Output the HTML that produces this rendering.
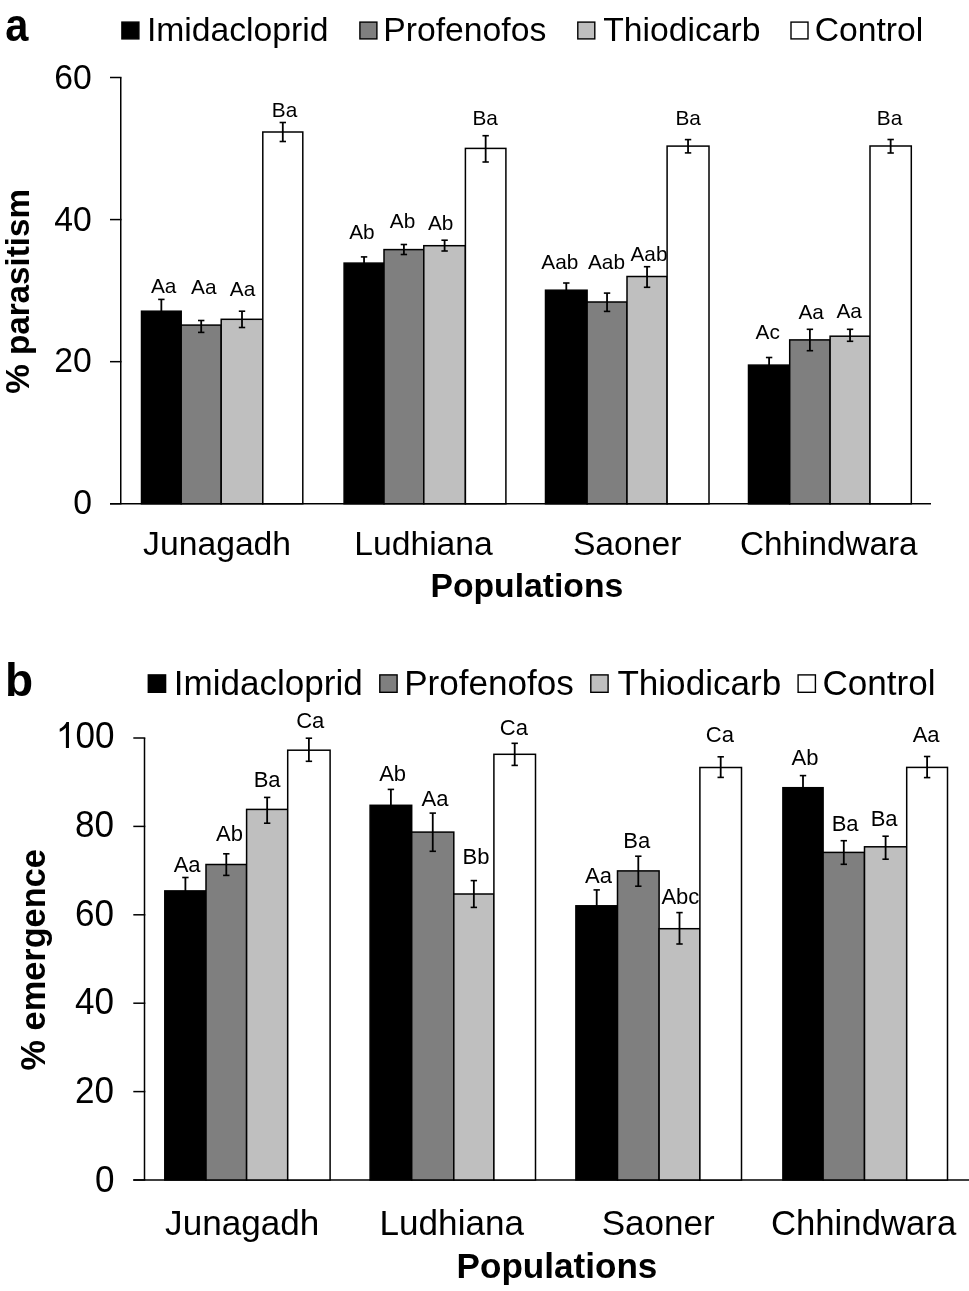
<!DOCTYPE html>
<html><head><meta charset="utf-8"><style>
html,body{margin:0;padding:0;background:#fff;}
body{width:969px;height:1291px;overflow:hidden;}
svg{display:block;will-change:transform;font-family:"Liberation Sans",sans-serif;}
</style></head><body>
<svg width="969" height="1291" viewBox="0 0 969 1291">
<rect x="0" y="0" width="969" height="1291" fill="#fff"/>
<rect x="121.90" y="22.10" width="17.00" height="16.80" fill="#000000" stroke="#000" stroke-width="1.4"/>
<rect x="359.90" y="22.10" width="17.00" height="16.80" fill="#7f7f7f" stroke="#000" stroke-width="1.4"/>
<rect x="577.80" y="22.10" width="17.00" height="16.80" fill="#bfbfbf" stroke="#000" stroke-width="1.4"/>
<rect x="791.00" y="22.10" width="17.00" height="16.80" fill="#ffffff" stroke="#000" stroke-width="1.4"/>
<line x1="120.75" y1="77.50" x2="120.75" y2="503.75" stroke="#000" stroke-width="1.5"/>
<line x1="110.00" y1="77.50" x2="121.50" y2="77.50" stroke="#000" stroke-width="1.5"/>
<line x1="110.00" y1="219.58" x2="121.50" y2="219.58" stroke="#000" stroke-width="1.5"/>
<line x1="110.00" y1="361.67" x2="121.50" y2="361.67" stroke="#000" stroke-width="1.5"/>
<line x1="110.00" y1="503.75" x2="121.50" y2="503.75" stroke="#000" stroke-width="1.5"/>
<line x1="110.00" y1="503.75" x2="931.00" y2="503.75" stroke="#000" stroke-width="1.5"/>
<rect x="141.50" y="311.20" width="39.70" height="192.55" fill="#000000" stroke="#000" stroke-width="1.5"/>
<line x1="161.35" y1="299.40" x2="161.35" y2="323.00" stroke="#000" stroke-width="1.8"/>
<line x1="158.15" y1="299.40" x2="164.55" y2="299.40" stroke="#000" stroke-width="1.6"/>
<line x1="158.15" y1="323.00" x2="164.55" y2="323.00" stroke="#000" stroke-width="1.6"/>
<rect x="181.20" y="325.10" width="40.00" height="178.65" fill="#7f7f7f" stroke="#000" stroke-width="1.5"/>
<line x1="201.20" y1="320.50" x2="201.20" y2="332.40" stroke="#000" stroke-width="1.8"/>
<line x1="198.00" y1="320.50" x2="204.40" y2="320.50" stroke="#000" stroke-width="1.6"/>
<line x1="198.00" y1="332.40" x2="204.40" y2="332.40" stroke="#000" stroke-width="1.6"/>
<rect x="221.20" y="319.30" width="41.60" height="184.45" fill="#bfbfbf" stroke="#000" stroke-width="1.5"/>
<line x1="242.00" y1="311.20" x2="242.00" y2="327.50" stroke="#000" stroke-width="1.8"/>
<line x1="238.80" y1="311.20" x2="245.20" y2="311.20" stroke="#000" stroke-width="1.6"/>
<line x1="238.80" y1="327.50" x2="245.20" y2="327.50" stroke="#000" stroke-width="1.6"/>
<rect x="262.80" y="132.00" width="40.00" height="371.75" fill="#ffffff" stroke="#000" stroke-width="1.5"/>
<line x1="282.80" y1="122.50" x2="282.80" y2="141.50" stroke="#000" stroke-width="1.8"/>
<line x1="279.60" y1="122.50" x2="286.00" y2="122.50" stroke="#000" stroke-width="1.6"/>
<line x1="279.60" y1="141.50" x2="286.00" y2="141.50" stroke="#000" stroke-width="1.6"/>
<rect x="344.10" y="263.10" width="39.90" height="240.65" fill="#000000" stroke="#000" stroke-width="1.5"/>
<line x1="364.05" y1="256.90" x2="364.05" y2="269.30" stroke="#000" stroke-width="1.8"/>
<line x1="360.85" y1="256.90" x2="367.25" y2="256.90" stroke="#000" stroke-width="1.6"/>
<line x1="360.85" y1="269.30" x2="367.25" y2="269.30" stroke="#000" stroke-width="1.6"/>
<rect x="384.00" y="249.60" width="39.80" height="254.15" fill="#7f7f7f" stroke="#000" stroke-width="1.5"/>
<line x1="403.90" y1="244.50" x2="403.90" y2="254.50" stroke="#000" stroke-width="1.8"/>
<line x1="400.70" y1="244.50" x2="407.10" y2="244.50" stroke="#000" stroke-width="1.6"/>
<line x1="400.70" y1="254.50" x2="407.10" y2="254.50" stroke="#000" stroke-width="1.6"/>
<rect x="423.80" y="245.70" width="41.60" height="258.05" fill="#bfbfbf" stroke="#000" stroke-width="1.5"/>
<line x1="444.60" y1="240.20" x2="444.60" y2="251.00" stroke="#000" stroke-width="1.8"/>
<line x1="441.40" y1="240.20" x2="447.80" y2="240.20" stroke="#000" stroke-width="1.6"/>
<line x1="441.40" y1="251.00" x2="447.80" y2="251.00" stroke="#000" stroke-width="1.6"/>
<rect x="465.40" y="148.40" width="40.50" height="355.35" fill="#ffffff" stroke="#000" stroke-width="1.5"/>
<line x1="485.65" y1="135.70" x2="485.65" y2="162.00" stroke="#000" stroke-width="1.8"/>
<line x1="482.45" y1="135.70" x2="488.85" y2="135.70" stroke="#000" stroke-width="1.6"/>
<line x1="482.45" y1="162.00" x2="488.85" y2="162.00" stroke="#000" stroke-width="1.6"/>
<rect x="545.50" y="290.20" width="41.60" height="213.55" fill="#000000" stroke="#000" stroke-width="1.5"/>
<line x1="566.30" y1="283.00" x2="566.30" y2="297.40" stroke="#000" stroke-width="1.8"/>
<line x1="563.10" y1="283.00" x2="569.50" y2="283.00" stroke="#000" stroke-width="1.6"/>
<line x1="563.10" y1="297.40" x2="569.50" y2="297.40" stroke="#000" stroke-width="1.6"/>
<rect x="587.10" y="302.00" width="39.90" height="201.75" fill="#7f7f7f" stroke="#000" stroke-width="1.5"/>
<line x1="607.05" y1="293.10" x2="607.05" y2="311.40" stroke="#000" stroke-width="1.8"/>
<line x1="603.85" y1="293.10" x2="610.25" y2="293.10" stroke="#000" stroke-width="1.6"/>
<line x1="603.85" y1="311.40" x2="610.25" y2="311.40" stroke="#000" stroke-width="1.6"/>
<rect x="627.00" y="276.50" width="40.10" height="227.25" fill="#bfbfbf" stroke="#000" stroke-width="1.5"/>
<line x1="647.05" y1="266.70" x2="647.05" y2="287.30" stroke="#000" stroke-width="1.8"/>
<line x1="643.85" y1="266.70" x2="650.25" y2="266.70" stroke="#000" stroke-width="1.6"/>
<line x1="643.85" y1="287.30" x2="650.25" y2="287.30" stroke="#000" stroke-width="1.6"/>
<rect x="667.10" y="146.10" width="41.90" height="357.65" fill="#ffffff" stroke="#000" stroke-width="1.5"/>
<line x1="688.05" y1="139.60" x2="688.05" y2="152.90" stroke="#000" stroke-width="1.8"/>
<line x1="684.85" y1="139.60" x2="691.25" y2="139.60" stroke="#000" stroke-width="1.6"/>
<line x1="684.85" y1="152.90" x2="691.25" y2="152.90" stroke="#000" stroke-width="1.6"/>
<rect x="748.50" y="365.10" width="41.20" height="138.65" fill="#000000" stroke="#000" stroke-width="1.5"/>
<line x1="769.10" y1="357.50" x2="769.10" y2="372.70" stroke="#000" stroke-width="1.8"/>
<line x1="765.90" y1="357.50" x2="772.30" y2="357.50" stroke="#000" stroke-width="1.6"/>
<line x1="765.90" y1="372.70" x2="772.30" y2="372.70" stroke="#000" stroke-width="1.6"/>
<rect x="789.70" y="339.90" width="40.40" height="163.85" fill="#7f7f7f" stroke="#000" stroke-width="1.5"/>
<line x1="809.90" y1="329.30" x2="809.90" y2="350.70" stroke="#000" stroke-width="1.8"/>
<line x1="806.70" y1="329.30" x2="813.10" y2="329.30" stroke="#000" stroke-width="1.6"/>
<line x1="806.70" y1="350.70" x2="813.10" y2="350.70" stroke="#000" stroke-width="1.6"/>
<rect x="830.10" y="336.20" width="39.90" height="167.55" fill="#bfbfbf" stroke="#000" stroke-width="1.5"/>
<line x1="850.05" y1="329.30" x2="850.05" y2="341.30" stroke="#000" stroke-width="1.8"/>
<line x1="846.85" y1="329.30" x2="853.25" y2="329.30" stroke="#000" stroke-width="1.6"/>
<line x1="846.85" y1="341.30" x2="853.25" y2="341.30" stroke="#000" stroke-width="1.6"/>
<rect x="870.00" y="146.00" width="41.30" height="357.75" fill="#ffffff" stroke="#000" stroke-width="1.5"/>
<line x1="890.65" y1="139.50" x2="890.65" y2="153.00" stroke="#000" stroke-width="1.8"/>
<line x1="887.45" y1="139.50" x2="893.85" y2="139.50" stroke="#000" stroke-width="1.6"/>
<line x1="887.45" y1="153.00" x2="893.85" y2="153.00" stroke="#000" stroke-width="1.6"/>
<rect x="148.30" y="674.90" width="17.30" height="17.40" fill="#000000" stroke="#000" stroke-width="1.4"/>
<rect x="379.80" y="674.90" width="17.30" height="17.40" fill="#7f7f7f" stroke="#000" stroke-width="1.4"/>
<rect x="590.80" y="674.90" width="17.30" height="17.40" fill="#bfbfbf" stroke="#000" stroke-width="1.4"/>
<rect x="798.10" y="674.90" width="17.30" height="17.40" fill="#ffffff" stroke="#000" stroke-width="1.4"/>
<line x1="144.50" y1="738.00" x2="144.50" y2="1180.00" stroke="#000" stroke-width="1.5"/>
<line x1="133.30" y1="738.00" x2="145.30" y2="738.00" stroke="#000" stroke-width="1.5"/>
<line x1="133.30" y1="826.40" x2="145.30" y2="826.40" stroke="#000" stroke-width="1.5"/>
<line x1="133.30" y1="914.80" x2="145.30" y2="914.80" stroke="#000" stroke-width="1.5"/>
<line x1="133.30" y1="1003.20" x2="145.30" y2="1003.20" stroke="#000" stroke-width="1.5"/>
<line x1="133.30" y1="1091.60" x2="145.30" y2="1091.60" stroke="#000" stroke-width="1.5"/>
<line x1="133.30" y1="1180.00" x2="145.30" y2="1180.00" stroke="#000" stroke-width="1.5"/>
<line x1="133.30" y1="1180.00" x2="969.00" y2="1180.00" stroke="#000" stroke-width="1.5"/>
<rect x="164.80" y="890.90" width="41.20" height="289.10" fill="#000000" stroke="#000" stroke-width="1.5"/>
<line x1="185.40" y1="877.50" x2="185.40" y2="904.30" stroke="#000" stroke-width="1.8"/>
<line x1="182.20" y1="877.50" x2="188.60" y2="877.50" stroke="#000" stroke-width="1.6"/>
<line x1="182.20" y1="904.30" x2="188.60" y2="904.30" stroke="#000" stroke-width="1.6"/>
<rect x="206.00" y="864.50" width="40.60" height="315.50" fill="#7f7f7f" stroke="#000" stroke-width="1.5"/>
<line x1="226.30" y1="853.80" x2="226.30" y2="875.40" stroke="#000" stroke-width="1.8"/>
<line x1="223.10" y1="853.80" x2="229.50" y2="853.80" stroke="#000" stroke-width="1.6"/>
<line x1="223.10" y1="875.40" x2="229.50" y2="875.40" stroke="#000" stroke-width="1.6"/>
<rect x="246.60" y="809.40" width="41.10" height="370.60" fill="#bfbfbf" stroke="#000" stroke-width="1.5"/>
<line x1="267.15" y1="797.40" x2="267.15" y2="823.20" stroke="#000" stroke-width="1.8"/>
<line x1="263.95" y1="797.40" x2="270.35" y2="797.40" stroke="#000" stroke-width="1.6"/>
<line x1="263.95" y1="823.20" x2="270.35" y2="823.20" stroke="#000" stroke-width="1.6"/>
<rect x="287.70" y="750.20" width="42.40" height="429.80" fill="#ffffff" stroke="#000" stroke-width="1.5"/>
<line x1="308.90" y1="738.20" x2="308.90" y2="761.30" stroke="#000" stroke-width="1.8"/>
<line x1="305.70" y1="738.20" x2="312.10" y2="738.20" stroke="#000" stroke-width="1.6"/>
<line x1="305.70" y1="761.30" x2="312.10" y2="761.30" stroke="#000" stroke-width="1.6"/>
<rect x="370.10" y="805.30" width="41.60" height="374.70" fill="#000000" stroke="#000" stroke-width="1.5"/>
<line x1="390.90" y1="789.40" x2="390.90" y2="821.20" stroke="#000" stroke-width="1.8"/>
<line x1="387.70" y1="789.40" x2="394.10" y2="789.40" stroke="#000" stroke-width="1.6"/>
<line x1="387.70" y1="821.20" x2="394.10" y2="821.20" stroke="#000" stroke-width="1.6"/>
<rect x="411.70" y="832.10" width="42.10" height="347.90" fill="#7f7f7f" stroke="#000" stroke-width="1.5"/>
<line x1="432.75" y1="813.10" x2="432.75" y2="851.30" stroke="#000" stroke-width="1.8"/>
<line x1="429.55" y1="813.10" x2="435.95" y2="813.10" stroke="#000" stroke-width="1.6"/>
<line x1="429.55" y1="851.30" x2="435.95" y2="851.30" stroke="#000" stroke-width="1.6"/>
<rect x="453.80" y="894.00" width="40.10" height="286.00" fill="#bfbfbf" stroke="#000" stroke-width="1.5"/>
<line x1="473.85" y1="880.60" x2="473.85" y2="907.40" stroke="#000" stroke-width="1.8"/>
<line x1="470.65" y1="880.60" x2="477.05" y2="880.60" stroke="#000" stroke-width="1.6"/>
<line x1="470.65" y1="907.40" x2="477.05" y2="907.40" stroke="#000" stroke-width="1.6"/>
<rect x="493.90" y="754.30" width="41.60" height="425.70" fill="#ffffff" stroke="#000" stroke-width="1.5"/>
<line x1="514.70" y1="743.30" x2="514.70" y2="765.40" stroke="#000" stroke-width="1.8"/>
<line x1="511.50" y1="743.30" x2="517.90" y2="743.30" stroke="#000" stroke-width="1.6"/>
<line x1="511.50" y1="765.40" x2="517.90" y2="765.40" stroke="#000" stroke-width="1.6"/>
<rect x="575.90" y="905.80" width="41.60" height="274.20" fill="#000000" stroke="#000" stroke-width="1.5"/>
<line x1="596.70" y1="889.90" x2="596.70" y2="921.70" stroke="#000" stroke-width="1.8"/>
<line x1="593.50" y1="889.90" x2="599.90" y2="889.90" stroke="#000" stroke-width="1.6"/>
<line x1="593.50" y1="921.70" x2="599.90" y2="921.70" stroke="#000" stroke-width="1.6"/>
<rect x="617.50" y="870.90" width="41.60" height="309.10" fill="#7f7f7f" stroke="#000" stroke-width="1.5"/>
<line x1="638.30" y1="856.20" x2="638.30" y2="886.20" stroke="#000" stroke-width="1.8"/>
<line x1="635.10" y1="856.20" x2="641.50" y2="856.20" stroke="#000" stroke-width="1.6"/>
<line x1="635.10" y1="886.20" x2="641.50" y2="886.20" stroke="#000" stroke-width="1.6"/>
<rect x="659.10" y="928.70" width="40.80" height="251.30" fill="#bfbfbf" stroke="#000" stroke-width="1.5"/>
<line x1="679.50" y1="912.60" x2="679.50" y2="944.00" stroke="#000" stroke-width="1.8"/>
<line x1="676.30" y1="912.60" x2="682.70" y2="912.60" stroke="#000" stroke-width="1.6"/>
<line x1="676.30" y1="944.00" x2="682.70" y2="944.00" stroke="#000" stroke-width="1.6"/>
<rect x="699.90" y="767.50" width="41.60" height="412.50" fill="#ffffff" stroke="#000" stroke-width="1.5"/>
<line x1="720.70" y1="756.80" x2="720.70" y2="777.40" stroke="#000" stroke-width="1.8"/>
<line x1="717.50" y1="756.80" x2="723.90" y2="756.80" stroke="#000" stroke-width="1.6"/>
<line x1="717.50" y1="777.40" x2="723.90" y2="777.40" stroke="#000" stroke-width="1.6"/>
<rect x="782.90" y="787.70" width="40.20" height="392.30" fill="#000000" stroke="#000" stroke-width="1.5"/>
<line x1="803.00" y1="775.60" x2="803.00" y2="799.80" stroke="#000" stroke-width="1.8"/>
<line x1="799.80" y1="775.60" x2="806.20" y2="775.60" stroke="#000" stroke-width="1.6"/>
<line x1="799.80" y1="799.80" x2="806.20" y2="799.80" stroke="#000" stroke-width="1.6"/>
<rect x="823.10" y="852.40" width="41.40" height="327.60" fill="#7f7f7f" stroke="#000" stroke-width="1.5"/>
<line x1="843.80" y1="840.70" x2="843.80" y2="864.30" stroke="#000" stroke-width="1.8"/>
<line x1="840.60" y1="840.70" x2="847.00" y2="840.70" stroke="#000" stroke-width="1.6"/>
<line x1="840.60" y1="864.30" x2="847.00" y2="864.30" stroke="#000" stroke-width="1.6"/>
<rect x="864.50" y="846.80" width="42.20" height="333.20" fill="#bfbfbf" stroke="#000" stroke-width="1.5"/>
<line x1="885.60" y1="836.20" x2="885.60" y2="859.20" stroke="#000" stroke-width="1.8"/>
<line x1="882.40" y1="836.20" x2="888.80" y2="836.20" stroke="#000" stroke-width="1.6"/>
<line x1="882.40" y1="859.20" x2="888.80" y2="859.20" stroke="#000" stroke-width="1.6"/>
<rect x="906.70" y="767.40" width="40.80" height="412.60" fill="#ffffff" stroke="#000" stroke-width="1.5"/>
<line x1="927.10" y1="756.50" x2="927.10" y2="777.60" stroke="#000" stroke-width="1.8"/>
<line x1="923.90" y1="756.50" x2="930.30" y2="756.50" stroke="#000" stroke-width="1.6"/>
<line x1="923.90" y1="777.60" x2="930.30" y2="777.60" stroke="#000" stroke-width="1.6"/>
<text transform="translate(6.20,41.00) scale(0.9040,1)" x="-1.00" y="0" font-size="46" font-weight="bold">a</text>
<text x="146.90" y="41.00" font-size="33.7">Imidacloprid</text>
<text x="383.30" y="41.00" font-size="33.7">Profenofos</text>
<text x="603.20" y="41.00" font-size="33.7">Thiodicarb</text>
<text x="814.70" y="41.00" font-size="33.7">Control</text>
<text x="150.90" y="293.40" font-size="20.8">Aa</text>
<text x="191.10" y="294.20" font-size="20.8">Aa</text>
<text x="229.80" y="296.00" font-size="20.8">Aa</text>
<text x="271.80" y="116.90" font-size="20.8">Ba</text>
<text x="349.20" y="238.80" font-size="20.8">Ab</text>
<text x="389.80" y="228.40" font-size="20.8">Ab</text>
<text x="428.00" y="230.40" font-size="20.8">Ab</text>
<text x="472.50" y="125.10" font-size="20.8">Ba</text>
<text x="541.30" y="269.20" font-size="20.8">Aab</text>
<text x="588.00" y="269.20" font-size="20.8">Aab</text>
<text x="630.50" y="260.80" font-size="20.8">Aab</text>
<text x="675.50" y="125.10" font-size="20.8">Ba</text>
<text x="755.60" y="338.80" font-size="20.8">Ac</text>
<text x="798.50" y="318.90" font-size="20.8">Aa</text>
<text x="836.50" y="317.70" font-size="20.8">Aa</text>
<text x="876.80" y="125.00" font-size="20.8">Ba</text>
<text x="143.10" y="555.00" font-size="33.7">Junagadh</text>
<text x="354.20" y="555.00" font-size="33.7">Ludhiana</text>
<text x="572.90" y="555.00" font-size="33.7">Saoner</text>
<text transform="translate(742.00,555.00) scale(0.9876,1)" x="-2.00" y="0" font-size="33.7">Chhindwara</text>
<text x="430.50" y="597.00" font-size="33.7" font-weight="bold">Populations</text>
<text x="4.90" y="696.00" font-size="46" font-weight="bold">b</text>
<text x="173.70" y="694.70" font-size="35.1">Imidacloprid</text>
<text x="404.20" y="694.70" font-size="35.1">Profenofos</text>
<text x="617.40" y="694.70" font-size="35.1">Thiodicarb</text>
<text x="822.50" y="694.70" font-size="35.1">Control</text>
<text x="173.70" y="871.70" font-size="22.0">Aa</text>
<text x="216.00" y="841.40" font-size="22.0">Ab</text>
<text x="253.70" y="786.70" font-size="22.0">Ba</text>
<text x="296.20" y="727.90" font-size="22.0">Ca</text>
<text x="379.20" y="780.50" font-size="22.0">Ab</text>
<text x="421.50" y="806.30" font-size="22.0">Aa</text>
<text x="462.60" y="864.10" font-size="22.0">Bb</text>
<text x="499.80" y="734.70" font-size="22.0">Ca</text>
<text x="585.00" y="882.70" font-size="22.0">Aa</text>
<text x="623.30" y="848.00" font-size="22.0">Ba</text>
<text x="661.40" y="903.90" font-size="22.0">Abc</text>
<text x="705.80" y="742.30" font-size="22.0">Ca</text>
<text x="791.60" y="765.30" font-size="22.0">Ab</text>
<text x="831.70" y="831.40" font-size="22.0">Ba</text>
<text x="870.70" y="825.70" font-size="22.0">Ba</text>
<text x="912.70" y="742.10" font-size="22.0">Aa</text>
<text x="165.10" y="1234.80" font-size="35.1">Junagadh</text>
<text x="379.60" y="1234.80" font-size="35.1">Ludhiana</text>
<text x="601.70" y="1234.80" font-size="35.1">Saoner</text>
<text transform="translate(772.90,1234.80) scale(0.9892,1)" x="-2.00" y="0" font-size="35.1">Chhindwara</text>
<text x="456.60" y="1278.40" font-size="35.1" font-weight="bold">Populations</text>
<text transform="translate(54.20,77.00) scale(1,1.04)" x="0" y="11.50" font-size="33.7">60</text>
<text transform="translate(54.20,219.10) scale(1,1.04)" x="0" y="11.50" font-size="33.7">40</text>
<text transform="translate(54.20,360.00) scale(1,1.04)" x="0" y="11.50" font-size="33.7">20</text>
<text transform="translate(73.20,502.40) scale(1,1.04)" x="0" y="11.50" font-size="33.7">0</text>
<g transform="translate(55.90,735.60) scale(1,1.04)"><path transform="translate(0,12.00) scale(0.01714,-0.01714)" d="M763 0L583 0L583 1147L520 1088L440 1030L340 965L223 910L223 1080L330 1140L440 1225L530 1320L590 1410L611 1466L763 1466Z" fill="#000"/><text x="19.52" y="12.00" font-size="35.1">00</text></g>
<text transform="translate(74.90,824.60) scale(1,1.04)" x="0" y="12.00" font-size="35.1">80</text>
<text transform="translate(74.90,913.60) scale(1,1.04)" x="0" y="12.00" font-size="35.1">60</text>
<text transform="translate(74.90,1001.70) scale(1,1.04)" x="0" y="12.00" font-size="35.1">40</text>
<text transform="translate(74.90,1090.70) scale(1,1.04)" x="0" y="12.00" font-size="35.1">20</text>
<text transform="translate(94.90,1179.60) scale(1,1.04)" x="0" y="12.00" font-size="35.1">0</text>
<text transform="translate(29.4,291.4) rotate(-90)" x="0" y="0" font-size="33.2" font-weight="bold" text-anchor="middle">% parasitism</text>
<text transform="translate(44.6,959.8) rotate(-90)" x="0" y="0" font-size="34.35" font-weight="bold" text-anchor="middle">% emergence</text>
</svg>
</body></html>
